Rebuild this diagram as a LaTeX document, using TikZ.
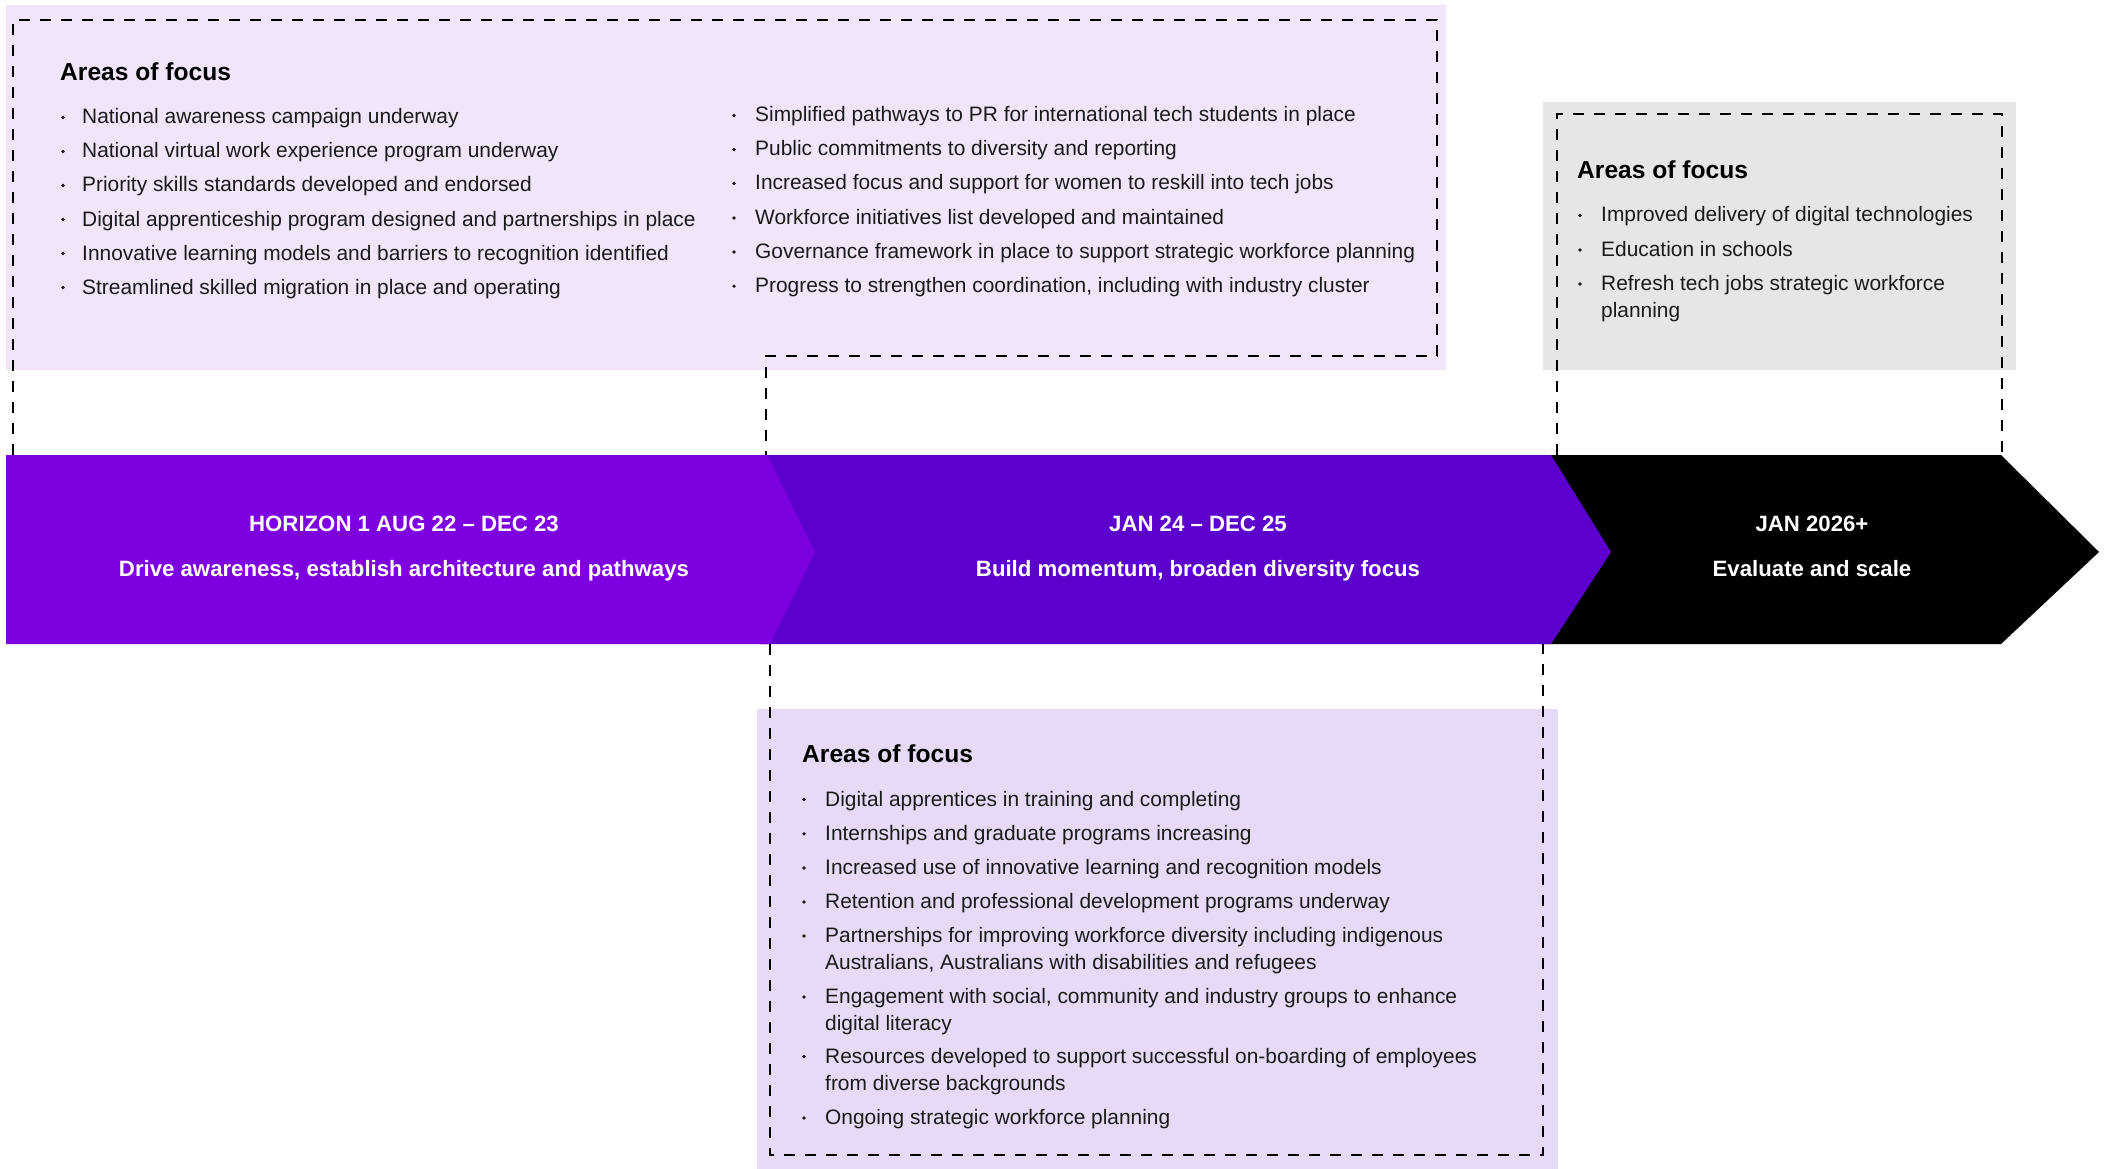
\documentclass[tikz,border=0pt]{standalone}
\usepackage{fontspec}
\setmainfont{Liberation Sans}
\definecolor{lavtop}{HTML}{F1E5FA}
\definecolor{lavbot}{HTML}{E6DAF7}
\definecolor{greybox}{HTML}{E5E6E8}
\definecolor{violetA}{HTML}{7D00E1}
\definecolor{violetB}{HTML}{5C00CD}
\definecolor{inktext}{HTML}{1A1A1A}
\tikzset{
  itemtxt/.style={anchor=base west, inner sep=0pt, font=\fontsize{20.9}{25}\selectfont, text=inktext},
  headtxt/.style={anchor=base west, inner sep=0pt, font=\bfseries\fontsize{24.6}{30}\selectfont, text=black},
  bandtxt/.style={anchor=base, inner sep=0pt, font=\bfseries\fontsize{22.2}{27}\selectfont, text=white},
  bulletdot/.style={circle, fill=inktext, inner sep=0pt, minimum size=3.6pt},
  dashframe/.style={line width=2.9pt, dash pattern=on 11pt off 10pt, draw=black},
}
\begin{document}
\begin{tikzpicture}[x=1pt,y=-1pt]
\useasboundingbox (0,0) rectangle (2107,1169);

% box backgrounds
\fill[lavtop] (6,5) rectangle (1446,370);
\fill[greybox] (1543,102) rectangle (2016,370);
\fill[lavbot] (757,709) rectangle (1558,1169);

% timeline band
\fill[black] (1540,455) -- (2001,455) -- (2099,552) -- (2001,644) -- (1540,644) -- cycle;
\fill[violetB] (760,455) -- (1551,455) -- (1611,552) -- (1551,644) -- (760,644) -- cycle;
\fill[violetA] (6,455) -- (767,455) -- (815,552) -- (770,644) -- (6,644) -- cycle;

% band labels
\node[bandtxt] (h1a) at (404,531.5) {HORIZON 1 AUG 22 – DEC 23};
\node[bandtxt] (h1b) at (404,576) {Drive awareness, establish architecture and pathways};
\node[bandtxt] (h2a) at (1198,531.5) {JAN 24 – DEC 25};
\node[bandtxt] (h2b) at (1198,576) {Build momentum, broaden diversity focus};
\node[bandtxt] (h3a) at (1812,531.5) {JAN 2026+};
\node[bandtxt] (h3b) at (1812,576) {Evaluate and scale};

% dashed frames
\coordinate (ta) at (13,455);
\coordinate (tb) at (13,20);
\coordinate (tc) at (1437,20);
\coordinate (td) at (1437,356);
\coordinate (te) at (766,356);
\coordinate (tf) at (766,455);
\draw[dashframe] (ta) -- (tb) -- (tc) -- (td) -- (te) -- (tf);

\coordinate (ga) at (1557,455);
\coordinate (gb) at (1557,114);
\coordinate (gc) at (2002,114);
\coordinate (gd) at (2002,455);
\draw[dashframe] (ga) -- (gb) -- (gc) -- (gd);

\coordinate (ba) at (770,644);
\coordinate (bb) at (770,1155);
\coordinate (bc) at (1543,1155);
\coordinate (bd) at (1543,644);
\draw[dashframe] (ba) -- (bb) -- (bc) -- (bd);

% top box
\node[headtxt] (thead) at (60,81) {Areas of focus};
\foreach \yy/\tt [count=\i] in {
  124/{National awareness campaign underway},
  158/{National virtual work experience program underway},
  192/{Priority skills standards developed and endorsed},
  226/{Digital apprenticeship program designed and partnerships in place},
  260/{Innovative learning models and barriers to recognition identified},
  294/{Streamlined skilled migration in place and operating}} {
  \node[bulletdot] (tlb\i) at (63,\yy-6.5) {};
  \node[itemtxt] (tlt\i) at (82,\yy) {\tt};
}
\foreach \yy/\tt [count=\i] in {
  122/{Simplified pathways to PR for international tech students in place},
  156/{Public commitments to diversity and reporting},
  190/{Increased focus and support for women to reskill into tech jobs},
  224.5/{Workforce initiatives list developed and maintained},
  258.5/{Governance framework in place to support strategic workforce planning},
  292.7/{Progress to strengthen coordination, including with industry cluster}} {
  \node[bulletdot] (trb\i) at (734,\yy-6.5) {};
  \node[itemtxt] (trt\i) at (755,\yy) {\tt};
}

% grey box
\node[headtxt] (ghead) at (1577,179) {Areas of focus};
\foreach \yy/\tt [count=\i] in {
  222/{Improved delivery of digital technologies},
  256.5/{Education in schools},
  290.5/{Refresh tech jobs strategic workforce}} {
  \node[bulletdot] (gb\i) at (1580,\yy-6.5) {};
  \node[itemtxt] (gt\i) at (1601,\yy) {\tt};
}
\node[itemtxt] (gt3b) at (1601,317.5) {planning};

% bottom box
\node[headtxt] (bhead) at (802,762.5) {Areas of focus};
\foreach \yy/\tt [count=\i] in {
  806/{Digital apprentices in training and completing},
  840.3/{Internships and graduate programs increasing},
  874.5/{Increased use of innovative learning and recognition models},
  908.5/{Retention and professional development programs underway},
  942.5/{Partnerships for improving workforce diversity including indigenous},
  1003.5/{Engagement with social, community and industry groups to enhance},
  1063/{Resources developed to support successful on-boarding of employees},
  1124.5/{Ongoing strategic workforce planning}} {
  \node[bulletdot] (bbl\i) at (804,\yy-6.5) {};
  \node[itemtxt] (btx\i) at (825,\yy) {\tt};
}
\node[itemtxt] (btx5b) at (825,969.5) {Australians, Australians with disabilities and refugees};
\node[itemtxt] (btx6b) at (825,1030.5) {digital literacy};
\node[itemtxt] (btx7b) at (825,1090) {from diverse backgrounds};
\end{tikzpicture}
\end{document}
